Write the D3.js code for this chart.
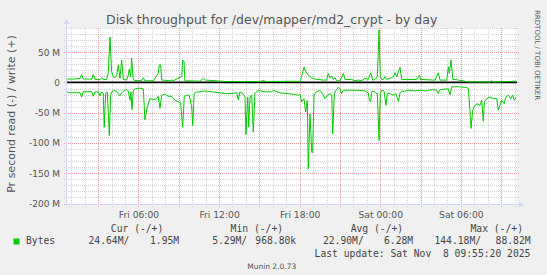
<!DOCTYPE html>
<html>
<head>
  <meta charset="utf-8">
  <title>Disk throughput for /dev/mapper/md2_crypt - by day</title>
  <script src="https://d3js.org/d3.v7.min.js"></script>
  <style>
    body { margin: 0; background: #f0f0f0; }
    svg { display: block; }
    text { font-family: "DejaVu Sans", sans-serif; fill: #555; }
    .mono { font-family: "DejaVu Sans Mono", monospace; font-size: 9.7px; fill: #444; }
  </style>
</head>
<body>
<div id="container"></div>
<script>
const width = 547,
  height = 275;
const margin = {top: 28, left: 67, right: 30, bottom: 72};

// time is hours since Fri 00:00, values are MB per second
const timeDomain = [0.68, 34.18];
const valueDomain = [-200, 90];

const write = [
  [0.70,5.6],[1.15,5.6],[1.64,6.7],[1.77,13.3],[1.89,5.6],[2.52,5.6],[2.63,13.3],[2.76,5.0],
  [3.13,5.0],[3.26,7.8],[3.38,5.0],[3.63,5.0],[3.75,15],[3.88,75],[4.00,17.8],[4.12,9.4],
  [4.25,7.8],[4.38,12],[4.50,29],[4.62,6.7],[4.75,37],[4.87,5.0],[5.12,4.0],[5.24,12],
  [5.31,21.7],[5.42,9.4],[5.49,40],[5.61,5.0],[5.74,3.3],[6.24,3.3],[6.36,7.8],[6.48,2.8],
  [7.10,2.8],[7.47,15],[7.55,29],[7.65,29],[7.73,4.0],[8.35,2.8],[8.47,4.0],[8.59,2.8],
  [9.22,10],[9.29,37],[9.39,34],[9.46,2.8],[10.58,2.2],[10.83,6.7],[11.00,4.0],[12.07,2.2],
  [12.44,1.5],[15.05,1.5],[15.27,3.0],[15.55,1.5],[17.53,2.0],[17.90,1.5],[18.03,1.1],
  [18.15,10],[18.32,25],[18.47,17.8],[18.64,12],[18.90,7.8],[19.14,5.6],[19.76,3.9],
  [20.01,3.9],[20.13,15],[20.26,7.8],[20.39,10.6],[20.51,5.0],[20.63,7.8],[20.76,2.8],
  [21.00,2.8],[21.25,15],[21.38,5.0],[21.87,5.0],[22.12,2.8],[22.37,3.9],[22.62,2.8],
  [22.86,6.7],[23.11,5.0],[23.29,16],[23.44,3.9],[23.61,5.0],[23.78,9.4],[23.91,87],
  [24.00,9.4],[24.11,5.0],[24.23,5.0],[24.35,9.4],[24.48,5.0],[24.73,6.7],[24.97,9.4],
  [25.10,16],[25.23,9.4],[25.35,17.8],[25.47,25],[25.60,5.0],[26.72,5.0],[26.91,12],
  [27.01,5.0],[28.08,3.9],[28.32,16],[28.45,3.9],[28.95,3.9],[29.07,26],[29.14,15],
  [29.27,37],[29.40,5.0],[29.57,5.0],[29.81,3.9],[30.18,2.8],[30.44,1.1],[32.17,0.6],
  [32.30,2.8],[32.42,0.6],[34.11,1.95]
];

const read = [
  [0.70,-15.6],[0.90,-17.2],[1.15,-16.7],[1.40,-17.2],[1.64,-16.7],[1.77,-23.9],[1.89,-15.0],
  [2.14,-15.6],[2.52,-15.0],[2.63,-22.8],[2.76,-15.6],[3.01,-15.6],[3.13,-22.2],[3.26,-15.6],
  [3.38,-18.3],[3.45,-73.9],[3.56,-18.3],[3.68,-15.6],[3.83,-87.8],[3.93,-21.1],[4.00,-15.6],
  [4.25,-12.8],[4.50,-18.3],[4.62,-22.2],[4.75,-17.2],[4.87,-14.4],[5.12,-11.7],[5.24,-13.9],
  [5.37,-29.4],[5.44,-15.6],[5.52,-45],[5.61,-13.9],[5.81,-10],[6.11,-9.4],[6.36,-10.6],
  [6.48,-61.7],[6.66,-40.6],[6.86,-26.7],[7.10,-28.3],[7.36,-26.7],[7.47,-22.8],[7.60,-42.8],
  [7.73,-21.1],[7.97,-19.4],[8.22,-22.8],[8.47,-22.8],[8.72,-29.4],[8.96,-32.2],[9.14,-33.9],
  [9.29,-73.9],[9.41,-22.8],[9.59,-21.1],[9.78,-21.1],[9.96,-40.6],[10.04,-71],[10.15,-18.3],
  [10.33,-15.6],[10.58,-15.6],[10.83,-14.4],[11.08,-14.4],[11.57,-15.6],[12.07,-17.2],
  [12.57,-18.3],[13.06,-18.3],[13.31,-16.7],[13.43,-28.3],[13.56,-15.6],[13.76,-18.3],
  [13.93,-23.9],[14.00,-86],[14.13,-23.9],[14.21,-74],[14.30,-23.9],[14.43,-21.1],[14.55,-82],
  [14.67,-18.3],[14.85,-13.9],[15.05,-13.9],[15.55,-15.6],[15.92,-15.6],[16.04,-12.8],
  [16.54,-17.2],[17.03,-18.3],[17.53,-19.4],[17.90,-21.1],[18.03,-19.4],[18.15,-32.2],
  [18.32,-26.7],[18.45,-48.9],[18.57,-29.4],[18.64,-143],[18.77,-51.7],[18.90,-115.6],
  [18.97,-115.6],[19.07,-21.1],[19.22,-15.6],[19.39,-13.9],[19.57,-13.9],[19.76,-21.1],
  [19.89,-26.7],[20.06,-21.1],[20.26,-18.3],[20.39,-21.1],[20.46,-85],[20.58,-18.3],
  [20.71,-12.8],[20.88,-8.3],[21.00,-10],[21.13,-18.3],[21.25,-12.8],[21.45,-12.8],
  [22.25,-12.8],[22.86,-13.9],[23.11,-17.2],[23.19,-29.4],[23.29,-32.2],[23.36,-15.6],
  [23.53,-14.4],[23.68,-18.3],[23.78,-18.3],[23.91,-96],[24.00,-18.3],[24.11,-12.8],
  [24.28,-14.4],[24.43,-37.8],[24.53,-18.3],[24.73,-18.3],[24.97,-21.1],[25.17,-18.3],
  [25.35,-31.7],[25.47,-17.2],[25.60,-14.4],[25.84,-14.4],[26.09,-12.8],[26.59,-13.9],
  [26.96,-12.8],[27.41,-13.9],[27.83,-11.7],[28.20,-12.8],[28.32,-18.3],[28.45,-11.7],
  [29.07,-10.6],[29.19,-20.5],[29.32,-7.2],[29.81,-7.2],[30.44,-8.3],[30.56,-10],
  [30.68,-48],[30.76,-76],[30.88,-46],[30.98,-40.6],[31.18,-35],[31.43,-37.8],[31.55,-29.4],
  [31.67,-64],[31.75,-32.2],[31.93,-26.7],[32.17,-23.9],[32.42,-26.7],[32.67,-26.7],
  [32.79,-46],[32.92,-37.8],[33.04,-29.4],[33.22,-35],[33.36,-23.9],[33.54,-21.1],
  [33.71,-26.7],[33.86,-21.1],[33.98,-29.4],[34.11,-24.6]
];

const timeTicks = [6, 12, 18, 24, 30];
const timeLabels = ["Fri 06:00", "Fri 12:00", "Fri 18:00", "Sat 00:00", "Sat 06:00"];
const valueTicks = [50, 0, -50, -100, -150, -200];
const valueLabels = ["50 M", "0", "-50 M", "-100 M", "-150 M", "-200 M"];

const legendHeads = ["Cur (-/+)", "Min (-/+)", "Avg (-/+)", "Max (-/+)"];
const legendRead = ["24.64M/", "5.29M/", "22.90M/", "144.18M/"];
const legendWrite = ["1.95M", "968.80k", "6.28M", "88.82M"];
const seriesName = "Bytes";
const lastUpdate = "Last update: Sat Nov  8 09:55:20 2025";

var svg = d3.select("#container")
  .append("svg")
  .attr("width", width)
  .attr("height", height)
  .style("background-color", "#f0f0f0");

var x = d3.scaleLinear()
  .domain(timeDomain)
  .range([margin.left, width - margin.right]);

var y = d3.scaleLinear()
  .domain(valueDomain)
  .range([height - margin.bottom + 0.5, margin.top]);

var x0 = margin.left, x1 = width - margin.right;
var y0 = height - margin.bottom + 0.5, y1 = margin.top;

svg.append("rect")
  .attr("x", x0).attr("y", y1)
  .attr("width", x1 - x0).attr("height", y0 - y1)
  .attr("fill", "white");

// grid
var hours = d3.range(1, 35);
var minorV = hours.filter(h => h % 3 != 0);
var majorV = hours.filter(h => h % 3 == 0);
var minorH = d3.range(-200, 91, 10).filter(v => v % 50 != 0);
var majorH = d3.range(-200, 91, 50);

var grid = svg.append("g").attr("shape-rendering", "crispEdges");
grid.selectAll(".vmin").data(minorV).enter().append("line")
  .attr("x1", d => Math.round(x(d)) + 0.5).attr("x2", d => Math.round(x(d)) + 0.5)
  .attr("y1", y1).attr("y2", y0 + 3)
  .attr("stroke", "#d4d4d4").attr("stroke-dasharray", "1,1");
grid.selectAll(".hmin").data(minorH).enter().append("line")
  .attr("y1", d => Math.round(y(d)) + 0.5).attr("y2", d => Math.round(y(d)) + 0.5)
  .attr("x1", x0 - 3).attr("x2", x1 + 2)
  .attr("stroke", "#d4d4d4").attr("stroke-dasharray", "1,1");
grid.selectAll(".vmaj").data(majorV).enter().append("line")
  .attr("x1", d => Math.round(x(d)) + 0.5).attr("x2", d => Math.round(x(d)) + 0.5)
  .attr("y1", y1).attr("y2", y0 + 3)
  .attr("stroke", "#eb9a9a").attr("stroke-dasharray", "1,1");
grid.selectAll(".hmaj").data(majorH).enter().append("line")
  .attr("y1", d => Math.round(y(d)) + 0.5).attr("y2", d => Math.round(y(d)) + 0.5)
  .attr("x1", x0 - 3).attr("x2", x1 + 2)
  .attr("stroke", "#eb9a9a").attr("stroke-dasharray", "1,1");

// axes lines and arrows
svg.append("line")
  .attr("x1", x0 - 0.5).attr("x2", x1 + 3)
  .attr("y1", Math.round(y0) + 0.5).attr("y2", Math.round(y0) + 0.5)
  .attr("stroke", "#cfd6f8");
svg.append("line")
  .attr("x1", x0 - 0.5).attr("x2", x0 - 0.5)
  .attr("y1", y0).attr("y2", y1 - 5)
  .attr("stroke", "#cfd6f8");
svg.append("path")
  .attr("d", "M" + (x1 + 2) + "," + (Math.round(y0) - 2.5) + " l5,3 l-5,3 z")
  .attr("fill", "#cfd6f8");
svg.append("path")
  .attr("d", "M" + (x0 - 3.5) + "," + (y1 - 4) + " l3,-5 l3,5 z")
  .attr("fill", "#cfd6f8");

svg.append("g")
  .attr("transform", "translate(0," + y0 + ")")
  .call(d3.axisBottom(x).tickValues(timeTicks).tickSize(0).tickPadding(7.5)
    .tickFormat((d, i) => timeLabels[i]))
  .call(g => g.select(".domain").remove())
  .selectAll("text")
  .style("font-family", "DejaVu Sans").style("font-size", "9.2px").attr("fill", "#555");

svg.append("g")
  .attr("transform", "translate(" + x0 + ",0)")
  .call(d3.axisLeft(y).tickValues(valueTicks).tickSize(0).tickPadding(7)
    .tickFormat((d, i) => valueLabels[i]))
  .call(g => g.select(".domain").remove())
  .selectAll("text")
  .style("font-family", "DejaVu Sans").style("font-size", "9px").attr("fill", "#555");

// zero rule
svg.append("line")
  .attr("x1", x0).attr("x2", x1)
  .attr("y1", y(0)).attr("y2", y(0))
  .attr("stroke", "black").attr("stroke-width", 1.8);

var line = d3.line()
  .x(d => x(d[0]))
  .y(d => y(d[1]));

svg.append("path").datum(read)
  .attr("d", line).attr("fill", "none")
  .attr("stroke", "#00cc00").attr("stroke-width", 1);
svg.append("path").datum(write)
  .attr("d", line).attr("fill", "none")
  .attr("stroke", "#00cc00").attr("stroke-width", 1);

// titles
svg.append("text")
  .attr("x", 271.7).attr("y", 24)
  .attr("text-anchor", "middle")
  .style("font-size", "12.5px")
  .text("Disk throughput for /dev/mapper/md2_crypt - by day");

svg.append("text")
  .attr("transform", "translate(15,114) rotate(-90)")
  .attr("text-anchor", "middle")
  .style("font-size", "11px")
  .text("Pr second read (-) / write (+)");

svg.append("text")
  .attr("transform", "translate(535,10) rotate(90)")
  .style("font-size", "7px").attr("fill", "#cccccc")
  .text("RRDTOOL / TOBI OETIKER");

// legend
var headX = [110.8, 230.6, 350.7, 470.5];
var readX = [88.5, 212.2, 322.9, 434.4];
var writeX = [179.2, 296.2, 413.2, 530.6];

svg.selectAll(".head").data(legendHeads).enter().append("text")
  .attr("class", "mono").attr("x", (d, i) => headX[i]).attr("y", 232)
  .attr("xml:space", "preserve").text(d => d);

svg.append("rect")
  .attr("x", 13.5).attr("y", 238.5).attr("width", 6).attr("height", 6)
  .attr("fill", "#00cc00");
svg.append("text").attr("class", "mono")
  .attr("x", 26).attr("y", 244.4).text(seriesName);

svg.selectAll(".rd").data(legendRead).enter().append("text")
  .attr("class", "mono").attr("x", (d, i) => readX[i]).attr("y", 244.4)
  .text(d => d);
svg.selectAll(".wr").data(legendWrite).enter().append("text")
  .attr("class", "mono").attr("x", (d, i) => writeX[i]).attr("y", 244.4)
  .attr("text-anchor", "end").text(d => d);

svg.append("text").attr("class", "mono")
  .attr("x", 530.4).attr("y", 256.6).attr("text-anchor", "end")
  .attr("xml:space", "preserve").text(lastUpdate);

svg.append("text")
  .attr("x", 271.7).attr("y", 268.7).attr("text-anchor", "middle")
  .style("font-size", "7.5px").attr("fill", "#bbbbbb")
  .text("Munin 2.0.73");
</script>
</body>
</html>
